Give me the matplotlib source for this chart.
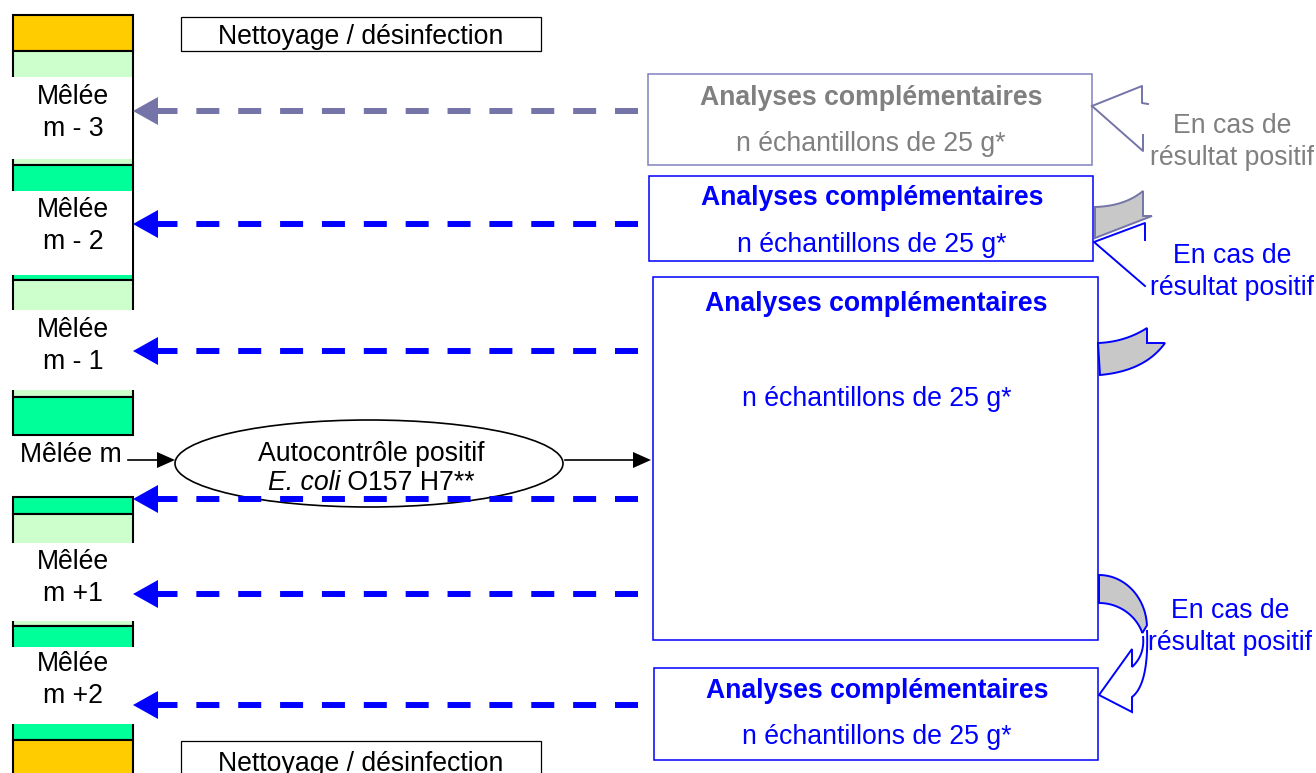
import matplotlib
matplotlib.use("Agg")
import matplotlib.pyplot as plt
from matplotlib.patches import Rectangle, Polygon, Ellipse
import numpy as np

# ---------------- content ----------------
melee_labels = ["Mêlée\nm - 3", "Mêlée\nm - 2", "Mêlée\nm - 1", "Mêlée m", "Mêlée\nm +1", "Mêlée\nm +2"]
clean_label = "Nettoyage / désinfection"
analysis_title = "Analyses complémentaires"
analysis_sub = "n échantillons de 25 g*"
positive_label = "En cas de\nrésultat positif"
auto_line1 = "Autocontrôle positif"
auto_italic = "E. coli"
auto_rest = " O157 H7**"

# ---------------- style ----------------
ORANGE = "#FFCC00"
LGREEN = "#CCFFCC"
GREEN = "#00FF99"
BLUE = "#0000FF"
SLATE = "#7474A8"
SLATE_EDGE = "#8080C0"
GREY_TXT = "#808080"
BAND = "#C8C8C8"
FS = 19.2
DY = 2  # visual text offset
LS = 1.3

plt.rcParams['font.family'] = ['Liberation Sans', 'DejaVu Sans']

W, H = 1316, 773
fig = plt.figure(figsize=(W / 100, H / 100), dpi=100)
ax = fig.add_axes([0, 0, 1, 1])
ax.set_xlim(0, W)
ax.set_ylim(H, 0)
ax.axis('off')

# ---------------- left column ----------------
col_x0, col_x1 = 13, 133
segments = [(15, 51, ORANGE), (51, 165, LGREEN), (165, 280, GREEN), (280, 397, LGREEN),
            (397, 435, GREEN), (497, 514, GREEN), (514, 626, LGREEN), (626, 740, GREEN),
            (740, 800, ORANGE)]
for y0, y1, c in segments:
    ax.add_patch(Rectangle((col_x0, y0), col_x1 - col_x0, y1 - y0, facecolor=c,
                           edgecolor='black', lw=1.5, zorder=2))

label_boxes = [(77, 159, 132), (191, 275, 132), (310, 390, 136), None, (543, 621, 136), (647, 724, 136)]
label_centers = [(73, 111), (73, 224), (73, 344), (71, 453), (73, 576), (73, 678)]
for lab, box, (cx, cy) in zip(melee_labels, label_boxes, label_centers):
    if box is not None:
        y0, y1, xr = box
        ax.add_patch(Rectangle((10, y0), xr - 10, y1 - y0, facecolor='white',
                               edgecolor='none', zorder=3))
    ax.text(cx, cy + DY, lab, ha='center', va='center', fontsize=FS, color='black',
            linespacing=LS, zorder=4)

# ---------------- cleaning boxes ----------------
for (x0, y0, x1, y1, ty) in [(181, 17, 541, 51, 35), (181, 741, 541, 800, 762)]:
    ax.add_patch(Rectangle((x0, y0), x1 - x0, y1 - y0, facecolor='white',
                           edgecolor='black', lw=0.9, zorder=2))
    ax.text((x0 + x1) / 2, ty + DY, clean_label, ha='center', va='center', fontsize=FS, zorder=4)

# ---------------- analysis boxes ----------------
boxes = [
    (648, 74, 1092, 165, 96, 142, SLATE_EDGE, GREY_TXT),
    (649, 176, 1093, 261, 196, 243, BLUE, BLUE),
    (653, 277, 1098, 640, 302, 397, BLUE, BLUE),
    (654, 668, 1098, 760, 689, 735, BLUE, BLUE),
]
for x0, y0, x1, y1, ty1, ty2, ec, tc in boxes:
    ax.add_patch(Rectangle((x0, y0), x1 - x0, y1 - y0, facecolor='white',
                           edgecolor=ec, lw=1.1, zorder=2))
    cx = (x0 + x1) / 2 + 1
    ax.text(cx, ty1 + DY, analysis_title, ha='center', va='center', fontsize=FS,
            fontweight='bold', color=tc, zorder=4)
    ax.text(cx, ty2 + DY, analysis_sub, ha='center', va='center', fontsize=FS,
            color=tc, zorder=4)

# ---------------- dashed arrows ----------------
def dashed_arrow(y, color, x_start=638, x_tip=133, head_len=25, head_half=14, lw=4.3):
    ax.plot([x_start, x_tip + head_len - 1], [y, y], color=color, lw=lw,
            dashes=(3.85, 3.16), dash_capstyle='butt', zorder=5)
    ax.add_patch(Polygon([(x_tip, y), (x_tip + head_len, y - head_half),
                          (x_tip + head_len, y + head_half)], closed=True,
                         facecolor=color, edgecolor='none', zorder=5))

arrow_rows = [(111, SLATE), (224, BLUE), (351, BLUE), (499, BLUE), (594, BLUE), (705, BLUE)]
for y, c in arrow_rows:
    dashed_arrow(y, c)

# ---------------- autocontrol ellipse ----------------
ax.add_patch(Ellipse((369, 463.5), 388, 87, facecolor='white', edgecolor='black', lw=1.2, zorder=3))
ax.text(371, 452 + DY, auto_line1, ha='center', va='center', fontsize=FS, zorder=4)

fig.canvas.draw()
r = fig.canvas.get_renderer()
t_it = ax.text(0, 481 + DY, auto_italic, ha='left', va='center', fontsize=FS, style='italic', zorder=4)
t_rm = ax.text(0, 481 + DY, auto_rest, ha='left', va='center', fontsize=FS, zorder=4)
w_it = t_it.get_window_extent(r).width
w_rm = t_rm.get_window_extent(r).width
x_left = 371 - (w_it + w_rm) / 2
t_it.set_x(x_left)
t_rm.set_x(x_left + w_it)

def solid_arrow(x0, x1, y, color='black', head_len=18, head_half=8, lw=1.2):
    ax.plot([x0, x1 - head_len + 1], [y, y], color=color, lw=lw, zorder=5)
    ax.add_patch(Polygon([(x1, y), (x1 - head_len, y - head_half), (x1 - head_len, y + head_half)],
                         closed=True, facecolor=color, edgecolor='none', zorder=5))

solid_arrow(128, 175, 460)
solid_arrow(565, 651, 460)

# ---------------- curved "positive result" arrows ----------------
def qbez(p0, p1, p2, n=30):
    t = np.linspace(0, 1, n)[:, None]
    p0, p1, p2 = map(np.array, (p0, p1, p2))
    return (1 - t) ** 2 * p0 + 2 * (1 - t) * t * p1 + t ** 2 * p2

# A: grey/slate arrow head (body hidden)
ax.plot([1092, 1142, 1142, 1148], [106, 86, 103, 104], color=SLATE, lw=1.4, zorder=6)
ax.plot([1092, 1143, 1143], [106, 151, 135], color=SLATE, lw=1.4, zorder=6)

# B: band + blue arrow head
pts = np.vstack([qbez((1095, 207), (1125, 206), (1143, 191)),
                 [(1143, 216), (1152, 216), (1095, 238)]])
ax.add_patch(Polygon(pts, closed=True, facecolor=BAND, edgecolor=SLATE, lw=1.4, zorder=6))
ax.plot([1145, 1145, 1094, 1145], [240, 223, 242, 286], color=BLUE, lw=1.4, zorder=6)

# C: band
pts = np.vstack([qbez((1098, 343), (1125, 342), (1147, 328)),
                 [(1147, 343), (1165, 343)],
                 qbez((1165, 343), (1145, 371), (1100, 375))])
ax.add_patch(Polygon(pts, closed=True, facecolor=BAND, edgecolor=BLUE, lw=1.4, zorder=6))

# D: full curved arrow pointing back to the last box
th = np.linspace(np.pi / 2, 0.05, 40)
outer = np.column_stack([1099 + 48 * np.cos(th), 628 - 53 * np.sin(th)])
th2 = np.linspace(0.34, np.pi / 2, 40)
inner = np.column_stack([1099 + 46 * np.cos(th2), 648 - 45 * np.sin(th2)])
ax.add_patch(Polygon(np.vstack([outer, inner]), closed=True, facecolor=BAND,
                     edgecolor=BLUE, lw=1.4, zorder=6))
lower = np.vstack([qbez((1147, 630), (1149, 684), (1132, 697)),
                   [(1132, 712), (1099, 695), (1132, 649), (1132, 667)],
                   qbez((1132, 667), (1145, 655), (1143, 636))])
ax.add_patch(Polygon(lower, closed=False, facecolor='white', edgecolor=BLUE, lw=1.4, zorder=6))

# labels
for (cx, cy, c) in [(1232, 140, GREY_TXT), (1232, 270, BLUE), (1230, 625, BLUE)]:
    ax.text(cx, cy + DY, positive_label, ha='center', va='center', fontsize=FS, color=c,
            linespacing=LS, zorder=7)

fig.savefig("out.png", dpi=100)
